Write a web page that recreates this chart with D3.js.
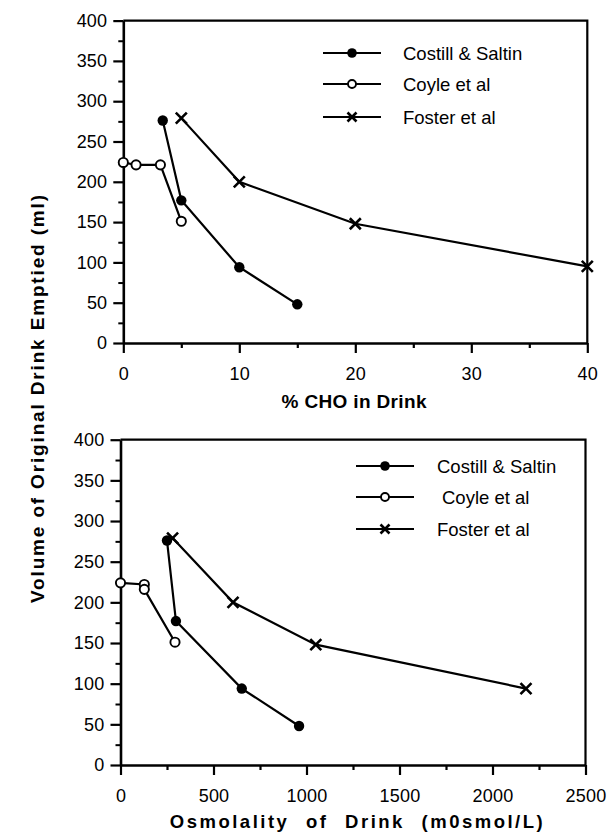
<!DOCTYPE html>
<html>
<head>
<meta charset="utf-8">
<script src="https://cdn.jsdelivr.net/npm/d3@7"></script>
<style>
  html, body { margin: 0; padding: 0; background: #fff; }
  svg { display: block; font-family: "Liberation Sans", Arial, Helvetica, sans-serif; }
</style>
</head>
<body>
<svg id="chart" width="611" height="839"></svg>
<script>
// ---------- Data ----------
const seriesNames = ["Costill & Saltin", "Coyle et al", "Foster et al"];

// Top panel: % CHO in drink
const choCostillX = [3.4, 5, 10, 15];
const choCostillY = [276, 177, 94, 48];
const choCoyleX = [0, 1.1, 3.2, 5];
const choCoyleY = [224, 221, 221, 151];
const choFosterX = [5, 10, 20, 40];
const choFosterY = [279, 200, 148, 95];

// Bottom panel: osmolality of drink
const osmCostillX = [250, 298, 652, 960];
const osmCostillY = [276, 177, 94, 48];
const osmCoyleX = [0, 128, 128, 293];
const osmCoyleY = [224, 222, 216, 151];
const osmFosterX = [280, 605, 1050, 2180];
const osmFosterY = [279, 200, 148, 94];

// Ticks
const yTicks = [0, 50, 100, 150, 200, 250, 300, 350, 400];
const yMinorTicks = [25, 75, 125, 175, 225, 275, 325, 375];
const choTicks = [0, 10, 20, 30, 40];
const choMinorTicks = [5, 15, 25, 35];
const osmTicks = [0, 500, 1000, 1500, 2000, 2500];
const osmMinorTicks = [250, 750, 1250, 1750, 2250];

const yTitle = "Volume of Original Drink Emptied (ml)";
const choTitle = "% CHO in Drink";
const osmTitle = "Osmolality of Drink (m0smol/L)";

// ---------- Drawing ----------
const svg = d3.select("#chart");
const zip = (xs, ys) => xs.map((x, i) => [x, ys[i]]);

function drawMarker(g, type, x, y, big) {
  if (type === 0) {
    g.append("circle").attr("cx", x).attr("cy", y).attr("r", big ? 5.2 : 4.8).attr("fill", "#000");
  } else if (type === 1) {
    g.append("circle").attr("cx", x).attr("cy", y).attr("r", big ? 4.6 : 4)
      .attr("fill", "#fff").attr("stroke", "#000").attr("stroke-width", 1.9);
  } else {
    const s = big ? 5.5 : 4.5;
    g.append("path")
      .attr("d", `M${x - s},${y - s}L${x + s},${y + s}M${x - s},${y + s}L${x + s},${y - s}`)
      .attr("stroke", "#000").attr("stroke-width", 2.6).attr("fill", "none");
  }
}

function panel(opts) {
  const { xDomain, xRange, yRange, xTicks, xMinor, series, legend, xTitle } = opts;
  const x = d3.scaleLinear().domain(xDomain).range(xRange);
  const y = d3.scaleLinear().domain([0, 400]).range(yRange);
  const g = svg.append("g");

  // frame (top and right)
  g.append("path")
    .attr("d", `M${x(xDomain[0])},${y(400)}H${x(xDomain[1])}V${y(0)}`)
    .attr("fill", "none").attr("stroke", "#000").attr("stroke-width", 2.2);

  // minor ticks
  g.append("g").attr("transform", `translate(${x(xDomain[0])},0)`)
    .call(d3.axisLeft(y).tickValues(yMinorTicks).tickSize(5).tickFormat(""))
    .call(s => s.select(".domain").remove())
    .selectAll("line").attr("stroke", "#000").attr("stroke-width", 2);
  g.append("g").attr("transform", `translate(0,${y(0)})`)
    .call(d3.axisBottom(x).tickValues(xMinor).tickSize(5).tickFormat(""))
    .call(s => s.select(".domain").remove())
    .selectAll("line").attr("stroke", "#000").attr("stroke-width", 2.2);

  // major axes
  const fmt = d3.format("d");
  const ya = g.append("g").attr("transform", `translate(${x(xDomain[0])},0)`)
    .call(d3.axisLeft(y).tickValues(yTicks).tickFormat(fmt).tickSize(10).tickSizeOuter(0).tickPadding(6));
  const xa = g.append("g").attr("transform", `translate(0,${y(0)})`)
    .call(d3.axisBottom(x).tickValues(xTicks).tickFormat(fmt).tickSize(10).tickSizeOuter(0).tickPadding(10));
  [ya, xa].forEach(a => {
    a.select(".domain").attr("stroke", "#000").attr("stroke-width", 2.6);
    a.selectAll(".tick line").attr("stroke", "#000").attr("stroke-width", 2.2);
    a.selectAll(".tick text").attr("font-size", "18px").attr("fill", "#000")
      .attr("font-family", "'Liberation Sans', Arial, sans-serif").attr("letter-spacing", "0.2px");
  });
  xa.selectAll(".tick text").attr("dy", "0.95em");

  // series
  const line = d3.line().x(d => x(d[0])).y(d => y(d[1]));
  series.forEach((pts, i) => {
    g.append("path").datum(pts).attr("d", line)
      .attr("fill", "none").attr("stroke", "#000").attr("stroke-width", 2.2);
  });
  series.forEach((pts, i) => {
    pts.forEach(p => drawMarker(g, i, x(p[0]), y(p[1]), true));
  });

  // legend
  seriesNames.forEach((name, i) => {
    const ly = legend.rows[i];
    g.append("line").attr("x1", legend.x1).attr("x2", legend.x2)
      .attr("y1", ly).attr("y2", ly).attr("stroke", "#000").attr("stroke-width", 2.2);
    drawMarker(g, i, (legend.x1 + legend.x2) / 2, ly, false);
    g.append("text").attr("x", legend.tx + (legend.indent ? legend.indent[i] : 0)).attr("y", ly + 7)
      .attr("font-size", "18.5px").attr("fill", "#000").text(name);
  });

  // x title
  const t = g.append("text").attr("x", xTitle.x).attr("y", xTitle.y)
    .attr("text-anchor", "middle").attr("font-weight", "bold")
    .attr("font-size", xTitle.size).attr("fill", "#000").text(xTitle.text);
  if (xTitle.ls) t.attr("letter-spacing", xTitle.ls).style("word-spacing", xTitle.ws);
  if (xTitle.len) t.attr("textLength", xTitle.len).attr("lengthAdjust", "spacing");
}

panel({
  xDomain: [0, 40], xRange: [123.3, 587.3], yRange: [343, 20.6],
  xTicks: choTicks, xMinor: choMinorTicks,
  series: [zip(choCostillX, choCostillY), zip(choCoyleX, choCoyleY), zip(choFosterX, choFosterY)],
  legend: { x1: 323, x2: 381, tx: 403, rows: [53, 84, 117] },
  xTitle: { text: choTitle, x: 354, y: 408, size: "19px", len: 145 }
});

panel({
  xDomain: [0, 2500], xRange: [120.5, 585.5], yRange: [765, 439.7],
  xTicks: osmTicks, xMinor: osmMinorTicks,
  series: [zip(osmCostillX, osmCostillY), zip(osmCoyleX, osmCoyleY), zip(osmFosterX, osmFosterY)],
  legend: { x1: 356, x2: 414, tx: 437, rows: [466, 497, 529], indent: [0, 5, 0] },
  xTitle: { text: osmTitle, x: 357.5, y: 828, size: "18.5px", ls: "2.5px", ws: "9px" }
});

// shared y title
svg.append("text")
  .attr("transform", "translate(44,399) rotate(-90)")
  .attr("text-anchor", "middle").attr("font-weight", "bold")
  .attr("font-size", "19px").attr("fill", "#000")
  .attr("textLength", 408).attr("lengthAdjust", "spacing")
  .text(yTitle);
</script>
</body>
</html>
